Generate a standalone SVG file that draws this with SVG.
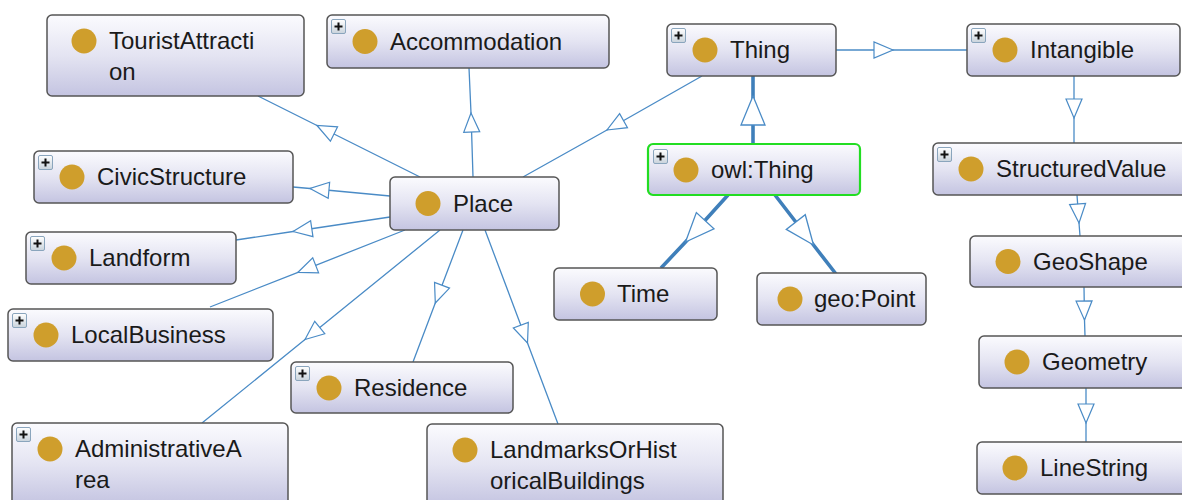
<svg xmlns="http://www.w3.org/2000/svg" xmlns:xlink="http://www.w3.org/1999/xlink" width="1182" height="500" viewBox="0 0 1182 500">
<defs>
<linearGradient id="nodeFill" x1="0" y1="0" x2="0" y2="1">
<stop offset="0" stop-color="#fbfbfe"/>
<stop offset="0.5" stop-color="#e4e4f2"/>
<stop offset="1" stop-color="#c4c4e1"/>
</linearGradient>
<linearGradient id="plusFill" x1="0" y1="0" x2="0" y2="1">
<stop offset="0" stop-color="#ffffff"/>
<stop offset="1" stop-color="#c9d3dc"/>
</linearGradient>
<g id="plusIcon">
<rect x="4.5" y="4.5" width="14" height="14" rx="1.5" fill="url(#plusFill)" stroke="#8aa5bd" stroke-width="1"/>
<path d="M7.5,11.5 H15.5 M11.5,7.5 V15.5" stroke="#111" stroke-width="2"/>
</g>
<marker id="tri" viewBox="-21 -10 23 20" refX="0" refY="0" markerWidth="23" markerHeight="20" markerUnits="userSpaceOnUse" orient="auto" overflow="visible">
<path d="M0,0 L-19,-8 L-19,8 Z" fill="#fff" stroke="#4a8bc6" stroke-width="1.2" stroke-linejoin="miter"/>
</marker>
<marker id="triBig" viewBox="-31 -14 33 28" refX="0" refY="0" markerWidth="33" markerHeight="28" markerUnits="userSpaceOnUse" orient="auto" overflow="visible">
<path d="M0,0 L-29,-12 L-29,12 Z" fill="#fff" stroke="#4a8bc6" stroke-width="1.3" stroke-linejoin="miter"/>
</marker>
</defs>
<style>
.box{fill:url(#nodeFill);stroke:#555;stroke-width:1.5}
.sel{fill:url(#nodeFill);stroke:#22dd22;stroke-width:2.2}
.dot{fill:#cf9e2c}
.lbl{font-family:"Liberation Sans",Arial,Helvetica,sans-serif;font-size:24px;fill:#1a1a1a}
.edge{fill:none;stroke:#4a8bc6;stroke-width:1.3;marker-mid:url(#tri)}
.thick{fill:none;stroke:#3f7fba;stroke-width:3.6;marker-mid:url(#triBig)}
</style>
<rect width="1182" height="500" fill="#fff"/>

<g id="connectors">
<path class="edge" d="M420,177 L317,125.5 L258,96"/>
<path class="edge" d="M473,177 L471,113 L469,68"/>
<path class="edge" d="M702,76 L607,130 L523,177"/>
<path class="thick" d="M753,144 L753,96 L753,76"/>
<path class="edge" d="M836,50 L893,50 L967,50"/>
<path class="edge" d="M1074,76 L1074,118 L1074,143"/>
<path class="edge" d="M1077,195 L1079,223 L1080,236"/>
<path class="edge" d="M1084,287 L1084.5,320 L1085,336"/>
<path class="edge" d="M1086,388 L1086,423 L1086,442"/>
<path class="thick" d="M728,195 L685.5,242 L661,268"/>
<path class="thick" d="M775,195 L813.5,245 L836,274"/>
<path class="edge" d="M390,196 L310,188.5 L293,187"/>
<path class="edge" d="M390,217 L293,231.5 L236,240"/>
<path class="edge" d="M405,230 L298,272.3 L210,307"/>
<path class="edge" d="M440,230 L305,339.5 L202,423"/>
<path class="edge" d="M463,230 L435.3,303 L413,362"/>
<path class="edge" d="M485,230 L527.5,343 L558,424"/>
</g>

<g id="node-TouristAttraction" transform="translate(47,15)">
<rect class="box" width="257" height="81" rx="5"/>
<circle class="dot" cx="37" cy="26" r="12.5"/>
<text class="lbl" x="62" y="34">TouristAttracti</text>
<text class="lbl" x="62" y="65">on</text>
</g>

<g id="node-Accommodation" transform="translate(327,15)">
<rect class="box" width="282" height="53" rx="5"/>
<use xlink:href="#plusIcon"/>
<circle class="dot" cx="38" cy="26.5" r="12.5"/>
<text class="lbl" x="63" y="35">Accommodation</text>
</g>

<g id="node-Thing" transform="translate(667,24)">
<rect class="box" width="169" height="52" rx="5"/>
<use xlink:href="#plusIcon"/>
<circle class="dot" cx="38" cy="26" r="12.5"/>
<text class="lbl" x="63" y="34">Thing</text>
</g>

<g id="node-Intangible" transform="translate(967,24)">
<rect class="box" width="213" height="52" rx="5"/>
<use xlink:href="#plusIcon"/>
<circle class="dot" cx="38" cy="26" r="12.5"/>
<text class="lbl" x="63" y="34">Intangible</text>
</g>

<g id="node-owlThing" transform="translate(648,144)">
<rect class="sel" width="212" height="51" rx="5"/>
<use xlink:href="#plusIcon" transform="translate(1,1)"/>
<circle class="dot" cx="38" cy="26" r="12.5"/>
<text class="lbl" x="63" y="34">owl:Thing</text>
</g>

<g id="node-StructuredValue" transform="translate(933,143)">
<rect class="box" width="260" height="52" rx="5"/>
<use xlink:href="#plusIcon"/>
<circle class="dot" cx="38" cy="26" r="12.5"/>
<text class="lbl" x="63" y="34">StructuredValue</text>
</g>

<g id="node-Place" transform="translate(390,177)">
<rect class="box" width="169" height="53" rx="5"/>
<circle class="dot" cx="38" cy="26.5" r="12.5"/>
<text class="lbl" x="63" y="35">Place</text>
</g>

<g id="node-CivicStructure" transform="translate(34,151)">
<rect class="box" width="259" height="52" rx="5"/>
<use xlink:href="#plusIcon"/>
<circle class="dot" cx="38" cy="26" r="12.5"/>
<text class="lbl" x="63" y="34">CivicStructure</text>
</g>

<g id="node-Landform" transform="translate(26,232)">
<rect class="box" width="210" height="52" rx="5"/>
<use xlink:href="#plusIcon"/>
<circle class="dot" cx="38" cy="26" r="12.5"/>
<text class="lbl" x="63" y="34">Landform</text>
</g>

<g id="node-GeoShape" transform="translate(970,236)">
<rect class="box" width="223" height="51" rx="5"/>
<circle class="dot" cx="38" cy="25.5" r="12.5"/>
<text class="lbl" x="63" y="34">GeoShape</text>
</g>

<g id="node-Time" transform="translate(554,268)">
<rect class="box" width="163" height="52" rx="5"/>
<circle class="dot" cx="38.5" cy="26" r="12.5"/>
<text class="lbl" x="63" y="34">Time</text>
</g>

<g id="node-geoPoint" transform="translate(757,273)">
<rect class="box" width="169" height="52" rx="5"/>
<circle class="dot" cx="33" cy="26" r="12.5"/>
<text class="lbl" x="57" y="34">geo:Point</text>
</g>

<g id="node-LocalBusiness" transform="translate(8,309)">
<rect class="box" width="265" height="52" rx="5"/>
<use xlink:href="#plusIcon"/>
<circle class="dot" cx="38" cy="26" r="12.5"/>
<text class="lbl" x="63" y="34">LocalBusiness</text>
</g>

<g id="node-Residence" transform="translate(291,362)">
<rect class="box" width="222" height="51" rx="5"/>
<use xlink:href="#plusIcon"/>
<circle class="dot" cx="38" cy="26" r="12.5"/>
<text class="lbl" x="63" y="34">Residence</text>
</g>

<g id="node-Geometry" transform="translate(979,336)">
<rect class="box" width="214" height="52" rx="5"/>
<circle class="dot" cx="38" cy="26" r="12.5"/>
<text class="lbl" x="63" y="34">Geometry</text>
</g>

<g id="node-AdministrativeArea" transform="translate(12,423)">
<rect class="box" width="276" height="82" rx="5"/>
<use xlink:href="#plusIcon"/>
<circle class="dot" cx="38" cy="26" r="12.5"/>
<text class="lbl" x="63" y="34">AdministrativeA</text>
<text class="lbl" x="63" y="65">rea</text>
</g>

<g id="node-LandmarksOrHistoricalBuildings" transform="translate(427,424)">
<rect class="box" width="296" height="82" rx="5"/>
<circle class="dot" cx="38" cy="26" r="12.5"/>
<text class="lbl" x="63" y="34">LandmarksOrHist</text>
<text class="lbl" x="63" y="65">oricalBuildings</text>
</g>

<g id="node-LineString" transform="translate(977,442)">
<rect class="box" width="216" height="52" rx="5"/>
<circle class="dot" cx="38" cy="26" r="12.5"/>
<text class="lbl" x="63" y="34">LineString</text>
</g>
</svg>
